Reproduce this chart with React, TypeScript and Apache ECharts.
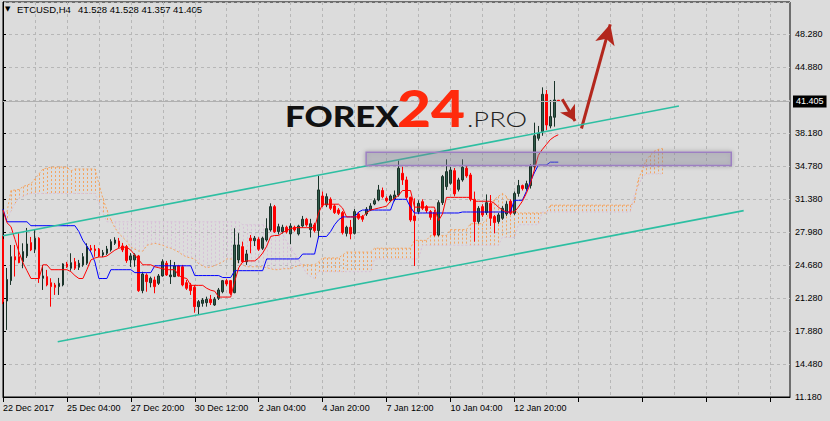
import React, { useEffect, useRef } from 'react';
import * as echarts from 'echarts';

// ---------- tick labels ----------
const xLabels = ['22 Dec 2017', '25 Dec 04:00', '27 Dec 20:00', '30 Dec 12:00', '2 Jan 04:00', '4 Jan 20:00', '7 Jan 12:00', '10 Jan 04:00', '12 Jan 20:00'];
const yLabels = ['11.180', '14.480', '17.880', '21.280', '24.680', '27.980', '31.380', '34.780', '38.180', '', '44.880', '48.280'];
const Y_MIN = 11.18;
const Y_MAX = 51.58;
const Y_STEP = (48.28 - 11.18) / 11;
const BAR_SLOTS = 198;
const LABEL_EVERY = 16;

// ---------- ETCUSD H4 candles ----------
const opens = [
  27.31, 21.0, 23.08, 25.53, 25.53, 25.02, 25.61, 26.97, 26.29, 27.42,
  23.32, 23.49, 22.87, 22.64, 22.47, 22.64, 24.79, 24.35, 25.02, 24.45,
  24.69, 24.86, 26.39, 26.32, 26.29, 25.71, 25.88, 26.22, 26.9, 27.14,
  26.63, 26.56, 25.2, 25.2, 25.61, 22.06, 23.66, 22.87, 23.15, 22.81,
  23.56, 24.86, 23.49, 23.49, 24.59, 24.5, 22.87, 22.64, 22.4, 20.42,
  20.76, 20.83, 21.17, 20.59, 21.28, 21.95, 23.08, 23.08, 21.85, 25.2,
  26.56, 25.02, 27.42, 27.17, 27.31, 26.39, 27.24, 28.27, 30.65, 28.1,
  28.09, 28.54, 27.86, 28.54, 27.86, 28.67, 29.36, 28.3, 28.78, 28.2,
  31.74, 30.82, 31.4, 30.72, 30.31, 30.04, 27.92, 28.54, 27.92, 29.9,
  29.63, 29.9, 30.31, 30.92, 31.33, 32.3, 31.5, 31.26, 31.4, 31.84,
  34.06, 33.38, 31.6, 29.7, 30.14, 31.16, 30.65, 30.14, 30.04, 27.75,
  31.06, 32.7, 33.04, 34.33, 32.42, 33.38, 34.57, 33.89, 31.4, 29.12,
  30.65, 30.04, 30.99, 29.63, 29.12, 29.46, 29.9, 31.2, 29.97, 32.0,
  32.8, 32.5, 32.8, 34.74, 37.64, 38.32, 42.14, 38.9, 39.79, 41.528,
];
const highs = [
  27.65, 24.38, 26.73, 26.73, 27.93, 26.9, 28.47, 27.55, 28.27, 27.52,
  24.69, 24.18, 23.33, 22.85, 23.36, 24.86, 25.0, 25.88, 25.4, 25.2,
  25.9, 26.9, 26.73, 26.73, 26.42, 26.22, 26.63, 27.31, 27.52, 27.45,
  26.94, 26.73, 25.9, 25.88, 25.71, 23.99, 23.83, 23.49, 23.49, 23.76,
  25.27, 25.1, 25.2, 24.99, 24.69, 24.69, 23.15, 22.85, 22.64, 21.1,
  21.3, 21.44, 21.62, 21.4, 22.33, 23.15, 23.25, 23.15, 28.44, 27.93,
  27.07, 26.22, 27.75, 27.65, 27.52, 27.58, 29.46, 30.99, 30.82, 28.9,
  28.8, 28.7, 28.95, 28.7, 28.8, 29.7, 29.5, 29.4, 29.0, 33.79,
  32.2, 32.0, 31.6, 30.9, 30.5, 30.2, 28.7, 29.29, 30.4, 30.1,
  29.8, 30.6, 31.0, 31.5, 32.87, 32.6, 31.7, 31.9, 32.3, 35.36,
  34.74, 33.72, 31.67, 31.5, 31.3, 31.4, 30.8, 30.3, 30.3, 31.3,
  33.89, 35.49, 34.7, 34.6, 33.6, 35.49, 34.8, 34.1, 32.19, 30.7,
  30.9, 31.9, 31.84, 29.8, 30.0, 30.7, 31.2, 31.4, 32.2, 33.38,
  32.9, 33.3, 35.0, 39.24, 38.9, 42.85, 42.58, 41.56, 43.5, 41.528,
];
const lows = [
  20.69, 18.04, 22.64, 23.5, 24.86, 24.35, 25.4, 26.1, 25.9, 22.85,
  22.13, 22.5, 20.42, 21.62, 21.62, 22.5, 24.38, 24.1, 24.17, 24.17,
  24.5, 24.69, 26.0, 25.53, 25.5, 25.5, 25.71, 26.05, 26.73, 26.42,
  26.0, 24.9, 24.48, 24.5, 21.93, 21.79, 21.95, 22.4, 21.79, 22.64,
  23.49, 23.56, 22.74, 23.46, 23.49, 22.5, 22.13, 21.62, 19.8, 19.57,
  20.42, 20.42, 20.59, 20.5, 21.1, 21.79, 22.54, 21.62, 21.79, 24.86,
  24.9, 24.69, 25.88, 26.63, 26.12, 26.22, 27.07, 28.09, 27.96, 27.8,
  27.9, 27.9, 26.83, 28.1, 27.7, 28.5, 28.6, 27.5, 28.0, 27.41,
  30.6, 30.6, 30.3, 29.9, 29.8, 27.8, 27.6, 27.31, 27.8, 29.3,
  29.1, 29.7, 30.2, 30.8, 31.2, 31.5, 31.1, 31.1, 31.2, 31.67,
  32.87, 31.4, 29.1, 24.58, 29.9, 30.3, 30.0, 29.3, 27.6, 27.6,
  30.82, 32.36, 32.9, 31.7, 32.2, 33.2, 33.6, 31.2, 27.07, 28.9,
  29.6, 29.8, 28.67, 27.92, 28.9, 29.3, 29.7, 29.8, 29.8, 31.67,
  32.3, 32.3, 32.5, 34.5, 37.4, 37.9, 38.49, 38.66, 38.83, 41.357,
];
const closes = [
  20.93, 23.2, 25.53, 25.2, 24.92, 26.05, 26.83, 26.22, 27.42, 23.32,
  23.56, 22.64, 22.47, 22.4, 22.81, 24.79, 24.51, 24.92, 24.35, 24.86,
  25.53, 26.56, 26.22, 26.15, 25.61, 25.94, 26.32, 27.07, 27.24, 26.56,
  26.22, 25.13, 25.61, 25.71, 22.06, 23.76, 22.98, 23.32, 22.47, 23.56,
  25.02, 23.66, 23.66, 24.59, 23.56, 22.64, 22.3, 22.06, 20.42, 20.93,
  21.1, 21.17, 20.83, 21.17, 22.13, 23.08, 22.74, 21.79, 26.73, 26.73,
  25.02, 25.81, 27.17, 27.42, 26.29, 27.42, 28.4, 30.65, 28.09, 28.6,
  28.54, 28.09, 28.67, 28.26, 28.67, 29.36, 28.78, 28.9, 28.2, 32.36,
  30.79, 31.67, 30.48, 30.04, 29.97, 27.99, 28.54, 27.86, 30.14, 29.46,
  29.36, 30.38, 30.72, 31.26, 32.36, 31.67, 31.26, 31.74, 31.84, 34.57,
  33.38, 31.6, 29.29, 29.22, 30.99, 30.48, 30.24, 29.56, 27.75, 31.06,
  33.72, 34.23, 34.4, 31.95, 33.38, 34.67, 33.79, 31.4, 29.12, 30.48,
  29.8, 31.06, 29.46, 29.02, 29.8, 30.48, 30.9, 29.97, 32.0, 32.8,
  32.5, 33.0, 34.81, 37.9, 38.15, 42.14, 39.0, 39.86, 41.56, 41.405,
];

// ---------- Ichimoku ----------
const tenkan = [
  30.3, 29.0, 28.6, 27.3, 26.0, 24.9, 24.1, 23.3, 23.3, 23.3,
  24.7, 24.7, 24.2, 24.2, 24.2, 24.2, 24.2, 24.0, 23.6, 23.3,
  23.3, 24.2, 25.2, 25.4, 25.5, 25.5, 25.6, 25.9, 26.2, 26.4,
  26.5, 26.5, 26.2, 25.7, 25.2, 24.7, 24.7, 24.7, 24.5, 24.4,
  24.3, 24.2, 24.2, 24.2, 23.6, 23.4, 23.3, 22.6, 22.6, 22.6,
  22.6, 22.3, 22.1, 22.0, 21.4, 21.4, 21.4, 21.4, 23.0, 24.4,
  25.0, 25.1, 25.1, 25.1, 25.4, 25.9, 26.6, 27.6, 27.7, 27.7,
  28.0, 28.2, 28.4, 28.5, 28.5, 28.5, 28.5, 28.5, 28.5, 30.0,
  30.9, 30.9, 30.9, 30.9, 30.9, 30.5, 29.6, 29.6, 29.6, 29.6,
  29.6, 30.0, 30.3, 30.4, 30.5, 30.6, 30.7, 31.2, 31.5, 31.8,
  32.3, 32.3, 32.3, 30.6, 30.6, 30.6, 30.6, 30.6, 30.6, 29.2,
  29.9, 31.6, 31.6, 31.6, 31.6, 31.6, 31.6, 31.6, 31.2, 31.2,
  31.2, 31.2, 31.2, 31.0, 30.6, 30.3, 30.1, 30.1, 30.1, 30.6,
  31.2, 32.0, 33.0, 34.4, 35.9, 36.5, 37.0, 37.5, 37.8, 38.0,
];
const kijun = [
  30.4, 29.1, 29.1, 29.1, 29.1, 29.1, 29.1, 28.7, 28.7, 28.7,
  28.7, 28.7, 28.7, 28.7, 28.7, 28.7, 28.7, 28.7, 28.7, 28.1,
  27.2, 26.6, 26.0, 25.0, 23.3, 23.3, 23.3, 24.2, 24.2, 24.2,
  24.2, 24.2, 24.2, 23.9, 23.9, 23.9, 23.9, 23.9, 24.6, 24.6,
  24.6, 24.6, 24.6, 24.6, 24.6, 24.6, 24.6, 24.6, 23.6, 23.6,
  23.6, 23.6, 23.6, 23.6, 23.6, 23.4, 23.4, 23.4, 24.1, 24.1,
  24.1, 24.1, 24.1, 24.1, 24.1, 24.1, 25.3, 25.3, 25.3, 25.3,
  25.3, 25.3, 25.3, 25.3, 25.3, 25.8, 25.8, 25.8, 25.8, 27.6,
  27.6, 27.6, 28.1, 28.8, 29.3, 29.6, 29.6, 29.6, 29.6, 30.1,
  30.3, 30.3, 30.3, 30.3, 30.3, 30.3, 30.3, 30.3, 31.4, 31.4,
  31.4, 31.4, 30.6, 30.0, 30.0, 30.0, 30.0, 30.0, 30.0, 30.0,
  30.0, 30.0, 30.0, 30.0, 30.0, 30.1, 30.1, 30.1, 30.1, 30.1,
  30.1, 30.1, 30.1, 30.1, 30.1, 30.1, 30.1, 30.1, 31.3, 31.3,
  31.3, 32.2, 33.2, 34.1, 34.9, 34.9, 34.9, 35.2, 35.2, 35.2,
];
const spanA: (number | null)[] = [
  null, 30.1, 32.3, 32.35, 32.4, 32.7, 32.85, 33.0, 33.5, 34.0,
  34.5, 34.6, 34.7, 34.7, 34.7, 34.7, 34.7, 34.3, 34.5, 34.5,
  34.5, 34.5, 34.5, 34.5, 33.0, 31.5, 30.3, 29.3, 28.5, 27.9,
  27.5, 27.1, 26.5, 26.3, 26.1, 26.1, 26.7, 26.8, 26.9, 26.8,
  26.7, 26.5, 26.4, 26.2, 26.0, 25.7, 25.5, 25.4, 25.3, 24.8,
  24.6, 24.4, 24.5, 24.6, 24.8, 25.0, 25.3, 25.3, 25.2, 24.9,
  24.7, 24.5, 24.5, 24.5, 24.5, 24.5, 24.4, 24.3, 24.2, 24.2,
  24.3, 24.3, 24.3, 24.5, 24.6, 24.7, 24.7, 24.7, 24.7, 25.0,
  25.4, 25.4, 25.4, 25.4, 25.4, 25.7, 26.0, 26.0, 26.0, 26.0,
  26.0, 26.0, 26.0, 26.4, 26.4, 26.4, 26.4, 26.4, 26.4, 26.4,
  26.4, 26.4, 26.4, 27.2, 27.2, 27.2, 27.2, 27.7, 27.7, 27.7,
  27.7, 27.7, 28.3, 28.3, 28.3, 28.3, 28.3, 28.9, 28.9, 28.9,
  28.9, 29.3, 30.6, 31.4, 31.7, 32.0, 31.7, 31.0, 30.3, 30.0,
  30.0, 30.0, 30.0, 30.0, 30.0, 30.0, 30.0, 30.8, 30.8, 30.8,
  30.8, 30.8, 30.8, 30.8, 30.8, 30.8, 30.8, 30.8, 30.8, 30.8,
  30.8, 30.8, 30.8, 30.8, 30.8, 30.8, 30.8, 30.8, 31.0, 33.4,
  34.4, 35.4, 35.9, 36.3, 36.5, 36.6,
];
const spanB: (number | null)[] = [
  null, 29.3, 30.2, 31.0, 31.5, 31.7, 31.9, 32.0, 32.0, 32.0,
  32.0, 32.0, 32.0, 32.0, 32.0, 32.0, 32.0, 32.0, 32.0, 32.0,
  32.0, 32.0, 32.0, 32.0, 31.0, 30.0, 29.1, 29.1, 29.1, 29.1,
  29.1, 29.1, 29.1, 29.1, 29.1, 29.1, 29.1, 29.1, 29.1, 29.1,
  29.1, 29.1, 29.1, 29.1, 29.1, 29.1, 29.1, 29.1, 29.1, 29.1,
  29.1, 29.1, 29.1, 29.1, 29.1, 29.1, 29.1, 29.1, 29.1, 29.1,
  28.8, 28.8, 28.8, 28.8, 28.8, 28.8, 28.6, 28.6, 28.6, 28.6,
  27.8, 27.1, 26.5, 25.8, 25.2, 24.5, 23.8, 23.5, 23.3, 24.0,
  24.0, 24.0, 24.0, 24.0, 24.0, 24.0, 24.0, 24.0, 24.0, 24.0,
  24.0, 24.0, 24.0, 25.3, 25.3, 25.3, 25.3, 25.3, 25.3, 25.3,
  25.3, 25.3, 25.3, 25.3, 25.3, 26.7, 26.7, 26.7, 26.7, 26.7,
  26.7, 26.7, 26.7, 26.7, 26.7, 26.7, 26.7, 26.7, 26.7, 26.7,
  26.7, 26.7, 26.7, 26.7, 26.7, 27.5, 27.5, 27.5, 27.5, 28.8,
  28.8, 28.8, 28.8, 28.8, 28.8, 30.1, 30.1, 30.1, 30.1, 30.1,
  30.1, 30.1, 30.1, 30.1, 30.1, 30.1, 30.1, 30.1, 30.1, 30.1,
  30.1, 30.1, 30.1, 30.1, 30.1, 30.1, 30.1, 30.1, 31.8, 32.7,
  33.7, 34.0, 34.0, 34.0, 34.0, 34.0,
];

// ---------- drawn objects (bar index, price) ----------
const upperChannel = [[0, 27.68], [169.2, 40.95]];
const lowerChannel = [[13.7, 16.84], [185.4, 30.24]];
const zoneBars = [90.9, 182.3];
const zonePrices = [34.86, 36.2];
const arrowDown = [[140.0, 41.63], [143.2, 39.4]];
const arrowUp = [[144.8, 38.64], [152.0, 49.3]];

const FONT = "'Liberation Sans', Arial, sans-serif";
const GRID_C = '#b7b7b7';
const BG = '#dcdcdc';

const fmt3 = (v: number) => (Math.round(v * 1000) / 1000).toFixed(3);

export default function App() {
  const ref = useRef<HTMLDivElement>(null);
  useEffect(() => {
    const chart = echarts.init(ref.current!, null, { renderer: 'svg' });
    const last = opens.length - 1;
    const lastPrice = closes[last];
    const cats = Array.from({ length: BAR_SLOTS }, (_, i) => 'b' + i);
    const candles = opens.map((o, i) => [o, closes[i], lows[i], highs[i]]);
    const hatch: number[][] = [];
    spanA.forEach((a, i) => {
      const b = spanB[i];
      if (a != null && b != null) hatch.push([i, a, b]);
    });
    const yFmt = (v: number) => {
      const k = Math.round((v - Y_MIN) / Y_STEP);
      if (Math.abs(Y_MIN + k * Y_STEP - v) > 0.01) return '';
      return yLabels[k] ?? '';
    };
    const header = [opens[last], highs[last], lows[last], closes[last]].map(fmt3).join(' ');

    const option: any = {
      animation: false,
      backgroundColor: BG,
      grid: { left: 2, top: 2, width: 788, height: 395, show: true, borderColor: '#000', borderWidth: 1, backgroundColor: 'transparent' },
      xAxis: [
        {
          type: 'category',
          data: cats,
          boundaryGap: false,
          axisLine: { show: true, lineStyle: { color: '#000', width: 1 } },
          axisTick: { show: true, interval: LABEL_EVERY - 1, length: 5, lineStyle: { color: '#000' } },
          axisLabel: {
            interval: LABEL_EVERY - 1,
            formatter: (_v: string, idx: number) => (idx % LABEL_EVERY === 0 ? xLabels[idx / LABEL_EVERY] ?? '' : ''),
            align: 'left',
            color: '#000',
            fontSize: 9,
            fontFamily: FONT,
            margin: 6,
          },
          splitLine: { show: true, interval: 7, lineStyle: { color: GRID_C, type: [3, 3], width: 1 } },
        },
        { type: 'value', min: 0, max: BAR_SLOTS - 1, show: false },
      ],
      yAxis: [
        {
          type: 'value',
          position: 'right',
          min: Y_MIN,
          max: Y_MAX,
          interval: Y_STEP,
          axisLine: { show: true, lineStyle: { color: '#000', width: 1 } },
          axisTick: { show: true, length: 3, lineStyle: { color: '#000' } },
          axisLabel: { formatter: yFmt, color: '#000', fontSize: 9, fontFamily: FONT, margin: 5, showMaxLabel: false },
          splitLine: { show: true, lineStyle: { color: GRID_C, type: [3, 3], width: 1 } },
        },
      ],
      series: [
        {
          type: 'custom',
          name: 'cloud',
          silent: true,
          z: 1,
          data: hatch,
          renderItem: (_p: any, api: any) => {
            const i = api.value(0);
            const a = api.value(1);
            const b = api.value(2);
            const p1 = api.coord([i, a]);
            const p2 = api.coord([i, b]);
            const x = Math.round(p1[0]) + 0.5;
            return {
              type: 'line',
              shape: { x1: x, y1: p1[1], x2: x, y2: p2[1] },
              style: { stroke: a >= b ? '#F4A460' : '#D8BFD8', lineWidth: 1, lineDash: [2, 2] },
            };
          },
        },
        {
          type: 'line', name: 'Senkou A', silent: true, z: 2, symbol: 'none',
          data: spanA.map((v) => (v == null ? '-' : v)),
          lineStyle: { color: '#F4A460', width: 1, type: [2, 2] },
        },
        {
          type: 'line', name: 'Senkou B', silent: true, z: 2, symbol: 'none',
          data: spanB.map((v) => (v == null ? '-' : v)),
          lineStyle: { color: '#D8BFD8', width: 1, type: [2, 2] },
        },
        {
          type: 'candlestick',
          name: 'ETCUSD',
          silent: true,
          z: 3,
          data: candles,
          barWidth: 2.2,
          itemStyle: { color: '#2f5a4a', color0: '#ff0000', borderColor: '#1a3329', borderColor0: '#ff0000', borderWidth: 1 },
          markLine: {
            silent: true,
            symbol: 'none',
            animation: false,
            lineStyle: { color: '#b0b0b0', type: 'solid', width: 1 },
            label: {
              show: true, position: 'end', distance: 3,
              formatter: () => fmt3(lastPrice),
              backgroundColor: '#000', color: '#fff', fontSize: 9, fontFamily: FONT, padding: [2, 3, 1, 3],
            },
            data: [{ yAxis: lastPrice }],
          },
        },
        {
          type: 'line', name: 'Kijun', silent: true, z: 4, symbol: 'none', data: kijun,
          lineStyle: { color: '#0000ff', width: 1 },
        },
        {
          type: 'line', name: 'Tenkan', silent: true, z: 4, symbol: 'none', data: tenkan,
          lineStyle: { color: '#ff0000', width: 1 },
        },
        {
          type: 'line', name: 'upper', silent: true, z: 6, symbol: 'none', xAxisIndex: 1, yAxisIndex: 0,
          data: upperChannel, lineStyle: { color: '#2dbfa2', width: 1.6 },
          markLine: {
            silent: true,
            animation: false,
            symbol: ['none', 'arrow'],
            label: { show: false },
            lineStyle: { color: '#b3271d', width: 3, type: 'solid' },
            data: [
              [{ coord: arrowDown[0], symbol: 'none' }, { coord: arrowDown[1], symbol: 'arrow', symbolSize: [13, 15] }],
              [{ coord: arrowUp[0], symbol: 'none' }, { coord: arrowUp[1], symbol: 'arrow', symbolSize: [15, 20] }],
            ],
          },
        },
        {
          type: 'line', name: 'lower', silent: true, z: 6, symbol: 'none', xAxisIndex: 1, yAxisIndex: 0,
          data: lowerChannel, lineStyle: { color: '#2dbfa2', width: 1.6 },
        },
        {
          type: 'custom', name: 'zone', silent: true, z: 7, xAxisIndex: 1, yAxisIndex: 0,
          data: [[zoneBars[0], zonePrices[1], zoneBars[1], zonePrices[0]]],
          renderItem: (_p: any, api: any) => {
            const a = api.coord([api.value(0), api.value(1)]);
            const b = api.coord([api.value(2), api.value(3)]);
            return {
              type: 'rect',
              shape: { x: a[0], y: a[1], width: b[0] - a[0], height: b[1] - a[1] },
              style: { fill: 'rgba(140,140,160,0.3)', stroke: '#9d80c2', lineWidth: 1.5, shadowBlur: 4, shadowColor: 'rgba(0,0,0,0.35)' },
            };
          },
        },
      ],
      graphic: {
        elements: [
          { type: 'text', x: 5, y: 9, silent: true, style: { text: '▼', font: "7px 'DejaVu Sans'", fill: '#000', textVerticalAlign: 'middle', verticalAlign: 'middle' } },
          { type: 'text', x: 17, y: 9, silent: true, style: { text: 'ETCUSD,H4', font: `9.5px ${FONT}`, fill: '#000', textVerticalAlign: 'middle', verticalAlign: 'middle' } },
          { type: 'text', x: 78, y: 9, silent: true, style: { text: header, font: `9.5px ${FONT}`, fill: '#000', textVerticalAlign: 'middle', verticalAlign: 'middle' } },
          { type: 'text', x: 285, y: 115.5, scaleX: 1.2, silent: true, z: 50, style: { text: 'FOREX', font: '900 29px Lato', fill: '#111111', textVerticalAlign: 'middle', verticalAlign: 'middle' } },
          { type: 'text', x: 397, y: 107.7, scaleX: 1.15, silent: true, z: 50, style: { text: '24', font: '900 51px Lato', fill: '#ff2a0c', textVerticalAlign: 'middle', verticalAlign: 'middle' } },
          { type: 'text', x: 467, y: 119.2, scaleX: 1.3, silent: true, z: 50, style: { text: '.PRO', font: '300 21px Lato', fill: '#222222', textVerticalAlign: 'middle', verticalAlign: 'middle' } },
        ],
      },
    };
    chart.setOption(option);
    return () => chart.dispose();
  }, []);
  return <div ref={ref} style={{ position: 'absolute', left: 0, top: 0, width: 830, height: 421, background: BG }} />;
}
